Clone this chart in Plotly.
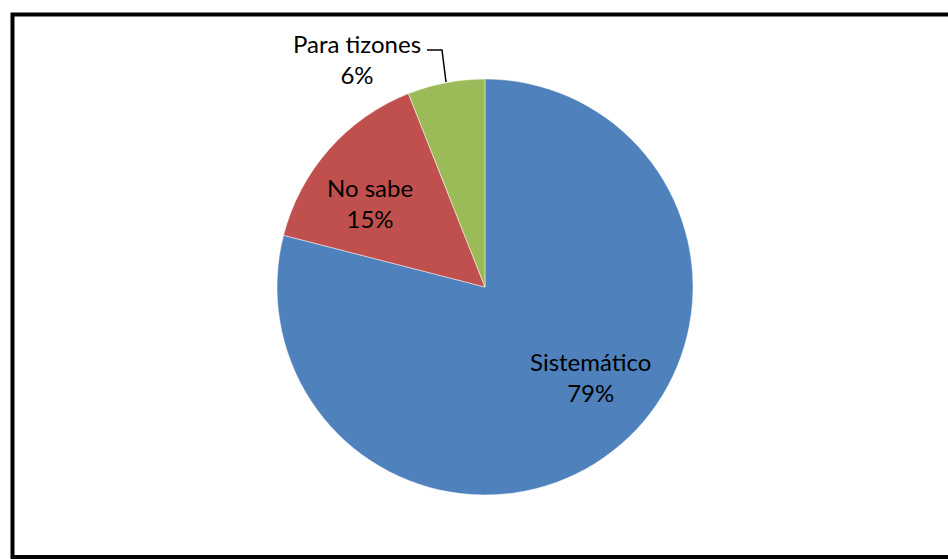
import plotly.graph_objects as go

categories = ["Sistemático", "No sabe", "Para tizones"]
values = [79, 15, 6]
colors = ["#4F81BD", "#C0504D", "#9BBB59"]

W, H = 948, 559
cx, cy, R = 485, 287, 208

def px(x):
    return x / W

def py(y):
    return 1 - y / H

total = sum(values)
pct = [f"{round(v * 100 / total)}%" for v in values]

fig = go.Figure(go.Pie(
    labels=categories,
    values=values,
    marker=dict(colors=colors, line=dict(color="rgba(255,255,255,0.6)", width=0.8)),
    sort=False,
    direction="clockwise",
    rotation=0,
    textinfo="none",
    hoverinfo="label+percent",
    showlegend=False,
    domain=dict(x=[px(cx - R), px(cx + R)], y=[py(cy + R), py(cy - R)]),
))

font = dict(family="Lato, 'Open Sans', sans-serif", size=24, color="#000000")
label_pos = [(590, 377), (370, 203), (357, 59)]
for cat, p, (x, y) in zip(categories, pct, label_pos):
    fig.add_annotation(
        x=px(x), y=py(y), xref="paper", yref="paper",
        text=f"{cat}<br>{p}", showarrow=False, font=font,
        xanchor="center", yanchor="middle", align="center",
    )

# leader line for the small slice
fig.add_shape(
    type="path", xref="paper", yref="paper",
    path=f"M {px(427)} {py(50)} L {px(442)} {py(50)} L {px(446)} {py(82)}",
    line=dict(color="#000000", width=1.5),
)

# chart frame (right side runs off the picture)
fig.add_shape(
    type="path", xref="paper", yref="paper",
    path=(f"M {px(1000)} {py(14.5)} L {px(12.5)} {py(14.5)} "
          f"L {px(12.5)} {py(557)} L {px(1000)} {py(557)}"),
    line=dict(color="#000000", width=4),
)

fig.update_layout(
    width=W, height=H,
    margin=dict(l=0, r=0, t=0, b=0),
    paper_bgcolor="#FFFFFF",
    plot_bgcolor="#FFFFFF",
)

fig.write_html(
    "out.html",
    config={"displayModeBar": False},
    post_script="document.body.style.margin='0';document.body.style.overflow='hidden';",
)
